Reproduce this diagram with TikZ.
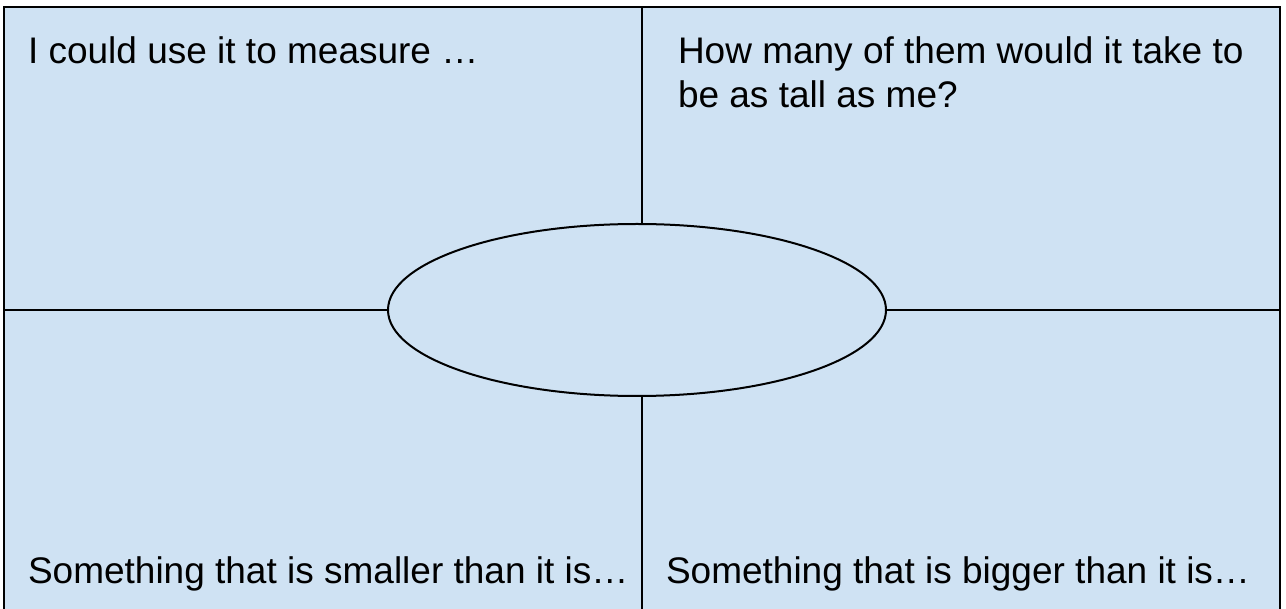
\documentclass[tikz,border=0pt]{standalone}
\usepackage{fontspec}
\setmainfont{Liberation Sans}
\usepackage{tikz}
\usetikzlibrary{shapes.geometric}
\usepackage{xcolor}
\definecolor{cellblue}{HTML}{CFE2F3}

\begin{document}
\begin{tikzpicture}[x=1pt,y=-1pt,line width=2pt,
  cell/.style={anchor=base west,inner sep=0pt,align=left,font=\fontsize{37}{44}\selectfont}]
\useasboundingbox (0,0) rectangle (1286,609);
\draw[fill=cellblue] (4,7) rectangle (1280,640);
\coordinate (top) at (642,7);
\coordinate (bot) at (642,609);
\coordinate (lft) at (4,310);
\coordinate (rgt) at (1280,310);
\node[draw,ellipse,fill=cellblue,minimum width=498pt,minimum height=172pt,inner sep=0pt] (centre) at (637,310) {};
\draw (top) -- (top |- centre.north);
\draw (bot) -- (bot |- centre.south);
\draw (lft) -- (centre.west);
\draw (rgt) -- (centre.east);
\node[cell] (measure) at (27,64) {I could use it to measure \dots};
\node[cell] (howmany) at (677,108) {How many of them would it take to\\be as tall as me?};
\node[cell] (smaller) at (27,583) {Something that is smaller than it is…};
\node[cell] (bigger) at (665,583) {Something that is bigger than it is…};
\end{tikzpicture}
\end{document}
